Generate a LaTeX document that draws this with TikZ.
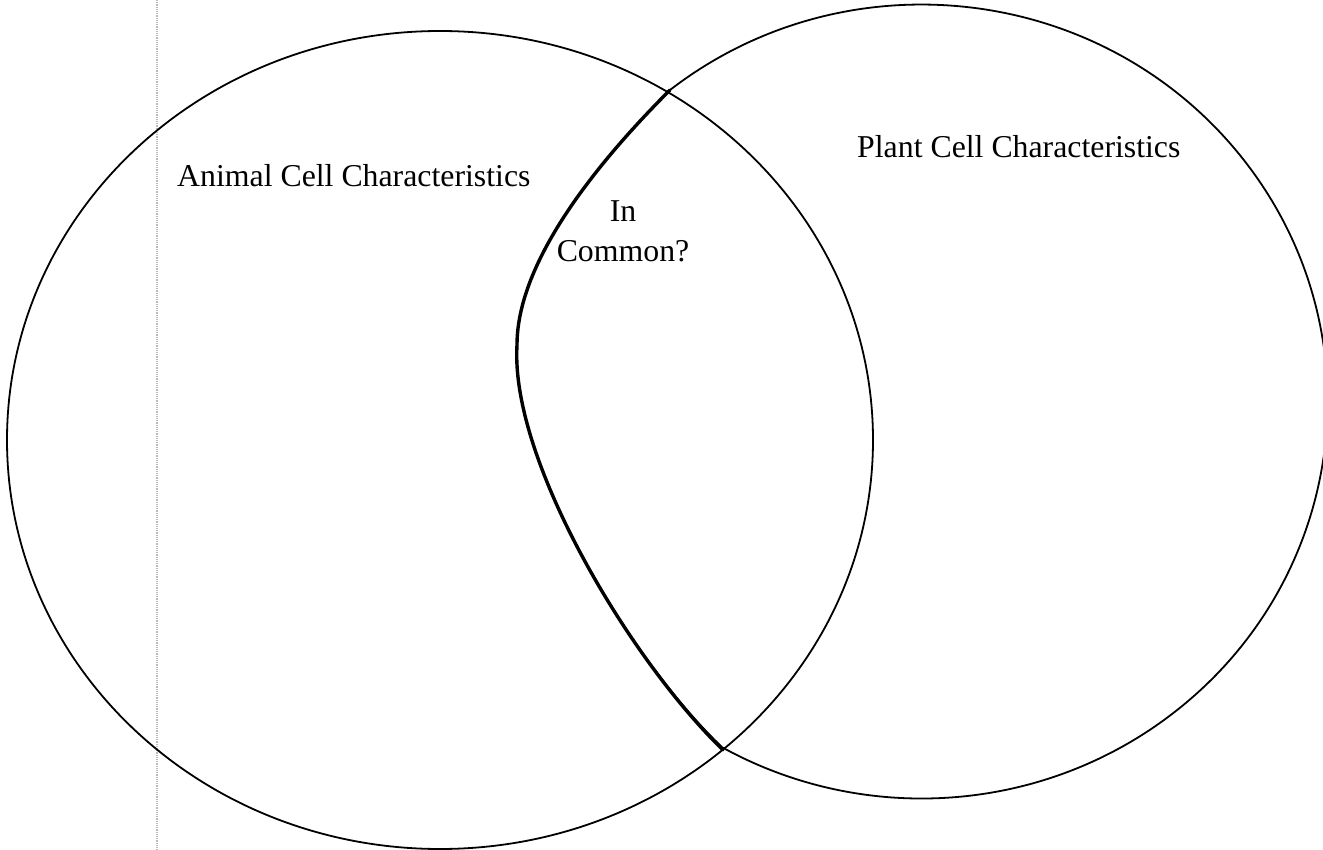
\documentclass[tikz,border=0pt]{standalone}
\usepackage{fontspec}
\setmainfont{Liberation Serif}
\usetikzlibrary{shapes.geometric}
\begin{document}
\begin{tikzpicture}[x=1pt,y=-1pt,
  venn/.style={draw=black, line width=1.8pt, fill=none},
  lbl/.style={inner sep=0pt, font=\fontsize{31.8}{40}\selectfont},
  trace/.style={draw=black, line width=3.4pt, line cap=round, line join=round}]
\useasboundingbox (0,0) rectangle (1323,850);
\clip (0,0) rectangle (1323,850);
\fill[white] (0,0) rectangle (1323,850);
% faint scan line
\draw[gray!55, line width=1.2pt, densely dotted] (157,0) -- (157,850);
% animal cell circle
\node[venn, draw, ellipse, inner sep=0pt, minimum width=866pt, minimum height=818pt] (animal) at (440,440) {};
% plant cell circle (slightly irregular on its left side)
\coordinate (top) at (670,90);
\coordinate (bot) at (723,750);
\coordinate (pl) at (517,345);
\draw[venn] (top) arc[start angle=-128.3, end angle=119.4, x radius=406, y radius=397]
  .. controls (630,660) and (510,460) .. (pl)
  .. controls (517,255) and (610,150) .. (top) -- cycle;
% hand-drawn emphasis of the overlap boundary
\draw[trace] (top) .. controls (610,150) and (517,255) .. (pl)
  .. controls (510,460) and (630,660) .. (bot);
% labels
\node[lbl, anchor=base west] (alab) at (177,187) {Animal Cell Characteristics};
\node[lbl, anchor=base west] (plab) at (857,158) {Plant Cell Characteristics};
\node[lbl, anchor=base, align=center] (clab) at (623,262) {In\\Common?};
\end{tikzpicture}
\end{document}
